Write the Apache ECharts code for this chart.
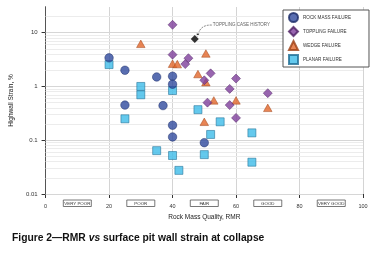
<!DOCTYPE html>
<html>
<head>
<meta charset="utf-8">
<script src="https://cdn.jsdelivr.net/npm/echarts@6/dist/echarts.min.js"></script>
<style>
html, body { margin: 0; padding: 0; background: #fff; }
#chart { width: 375px; height: 257px; }
</style>
</head>
<body>
<div id="chart"></div>
<script>
// [RMR, strain %]
var rockMass = [[20, 3.4], [25, 2.0], [35, 1.5], [40, 1.55], [40, 1.1], [25, 0.45], [37, 0.44], [40, 0.19], [40, 0.115], [50, 0.09]];
var toppling = [[40, 14], [40, 3.9], [45, 3.35], [44, 2.6], [52, 1.75], [50, 1.3], [60, 1.4], [58, 0.9], [70, 0.75], [51, 0.5], [58, 0.45], [60, 0.26]];
var wedge = [[30, 6.2], [40, 2.65], [41.5, 2.6], [48, 1.7], [50.5, 4.1], [50.5, 1.2], [53, 0.55], [60, 0.55], [70, 0.4], [50, 0.22]];
var planar = [[20, 2.55], [30, 1.0], [30, 0.7], [40, 0.84], [25, 0.25], [48, 0.37], [35, 0.064], [40, 0.052], [42, 0.0275], [55, 0.22], [52, 0.128], [65, 0.137], [50, 0.054], [65, 0.039]];
var caseHistory = [[47, 7.6]];

var yTicks = [0.01, 0.1, 1, 10];
var ratingCenters = [10, 30, 50, 70, 90];
var ratingLabels = ['VERY POOR', 'POOR', 'FAIR', 'GOOD', 'VERY GOOD'];
var seriesNames = ['ROCK MASS FAILURE', 'TOPPLING FAILURE', 'WEDGE FAILURE', 'PLANAR FAILURE'];

var FONT = 'Liberation Sans, Arial, sans-serif';

// horizontal grid: decades plus 2..9 inside each decade
var gridLines = [];
yTicks.forEach(function (d) {
    gridLines.push({ yAxis: d, lineStyle: { color: '#d6d6d6' } });
    if (d < 10) {
        for (var k = 2; k <= 9; k++) {
            gridLines.push({ yAxis: +(d * k).toPrecision(3), lineStyle: { color: '#ececec' } });
        }
    } else {
        gridLines.push({ yAxis: 20, lineStyle: { color: '#ececec' } });
    }
});

var chart = echarts.init(document.getElementById('chart'));

chart.setOption({
    animation: false,
    textStyle: { fontFamily: FONT },
    title: {
        left: 12, top: 233, padding: 0,
        text: '{b|Figure 2\u2014RMR }{i|vs}{b| surface pit wall strain at collapse}',
        textStyle: {
            rich: {
                b: { fontFamily: FONT, fontSize: 10.3, fontWeight: 'bold', color: '#111' },
                i: { fontFamily: FONT, fontSize: 10.3, fontWeight: 'bold', fontStyle: 'italic', color: '#111' }
            }
        }
    },
    legend: {
        data: seriesNames,
        orient: 'vertical',
        left: 283, top: 10,
        itemWidth: 9, itemHeight: 9, itemGap: 3,
        padding: [2, 18, 2, 5],
        borderColor: '#555', borderWidth: 1, backgroundColor: '#fff',
        textStyle: { fontSize: 4.6, color: '#333', fontFamily: FONT }
    },
    grid: { left: 41, right: 12, top: 7, bottom: 63 },
    xAxis: [{
        type: 'value', min: 0, max: 100, interval: 20,
        name: 'Rock Mass Quality, RMR', nameLocation: 'middle', nameGap: 17,
        nameTextStyle: { fontSize: 6.5, color: '#222' },
        axisLine: { lineStyle: { color: '#333', width: 1 } },
        axisTick: { length: 4, lineStyle: { color: '#333' } },
        axisLabel: { fontSize: 5.5, color: '#333', margin: 9 },
        splitLine: { show: true, lineStyle: { color: '#d4d4d4' } }
    }, {
        type: 'value', min: 0, max: 100, position: 'bottom',
        axisLine: { show: false }, axisTick: { show: false }, splitLine: { show: false },
        axisLabel: {
            customValues: ratingCenters,
            formatter: function (v) {
                var i = ratingCenters.indexOf(v);
                return i < 0 ? '' : ratingLabels[i];
            },
            fontSize: 4.4, color: '#333', margin: 6,
            width: 28, align: 'center',
            borderColor: '#555', borderWidth: 0.8, padding: [1.5, 0, 1, 0]
        }
    }],
    yAxis: [{
        type: 'log', logBase: 10, min: 0.01, max: 30,
        name: 'Highwall Strain, %', nameLocation: 'middle', nameGap: 24,
        nameTextStyle: { fontSize: 6.5, color: '#222' },
        axisLine: { show: true, lineStyle: { color: '#333', width: 1 } },
        axisTick: { show: true, length: 4, customValues: yTicks, lineStyle: { color: '#333' } },
        axisLabel: {
            customValues: yTicks, fontSize: 6, color: '#333', margin: 8,
            formatter: function (v) { return String(v); }
        },
        splitLine: { show: false }
    }, {
        type: 'log', logBase: 10, min: 0.01, max: 30, position: 'right',
        axisLine: { show: true, lineStyle: { color: '#555', width: 1 } },
        axisTick: { show: false }, axisLabel: { show: false }, splitLine: { show: false }
    }],
    series: [{
        name: seriesNames[3], type: 'scatter', data: planar,
        symbol: 'rect', symbolSize: 8,
        itemStyle: { color: '#3dbbe9', borderColor: '#1f6d93', borderWidth: 0.7 },
        markLine: {
            silent: true, symbol: 'none', z: 1,
            label: { show: false },
            lineStyle: { type: 'solid', width: 1 },
            data: gridLines
        }
    }, {
        name: seriesNames[2], type: 'scatter', data: wedge,
        symbol: 'triangle', symbolSize: [8.5, 7.5],
        itemStyle: { color: '#e2672b', borderColor: '#9b3f14', borderWidth: 0.6 }
    }, {
        name: seriesNames[1], type: 'scatter', data: toppling,
        symbol: 'diamond', symbolSize: 9,
        itemStyle: { color: '#7e3e9b', borderColor: '#4e2063', borderWidth: 0.6 }
    }, {
        name: seriesNames[0], type: 'scatter', data: rockMass,
        symbol: 'circle', symbolSize: 8.5,
        itemStyle: { color: '#2f4a9e', borderColor: '#1a2a66', borderWidth: 0.6 }
    }, {
        name: 'case', type: 'scatter', data: caseHistory,
        symbol: 'diamond', symbolSize: 8,
        itemStyle: { color: '#000' },
        label: {
            show: true, formatter: 'TOPPLING CASE HISTORY', position: 'right',
            distance: 0, offset: [14, -14], fontSize: 4.5, color: '#333', fontFamily: FONT
        }
    }]
});

// curved pointer from the annotation text to the case-history point
var p = chart.convertToPixel({ xAxisIndex: 0, yAxisIndex: 0 }, caseHistory[0]);
var ex = p[0] + 3.5, ey = p[1] - 5;
chart.setOption({
    graphic: [{
        type: 'bezierCurve',
        shape: { x1: p[0] + 17, y1: p[1] - 14, cpx1: p[0] + 6, cpy1: p[1] - 14.5, x2: ex, y2: ey },
        style: { stroke: '#333', lineWidth: 0.6, fill: null, lineDash: [2, 1] }
    }, {
        type: 'polygon',
        shape: { points: [[ex - 1.3, ey + 2.6], [ex - 1.6, ey - 0.6], [ex + 1.2, ey - 0.2]] },
        style: { fill: '#333' }
    }]
});
</script>
</body>
</html>
